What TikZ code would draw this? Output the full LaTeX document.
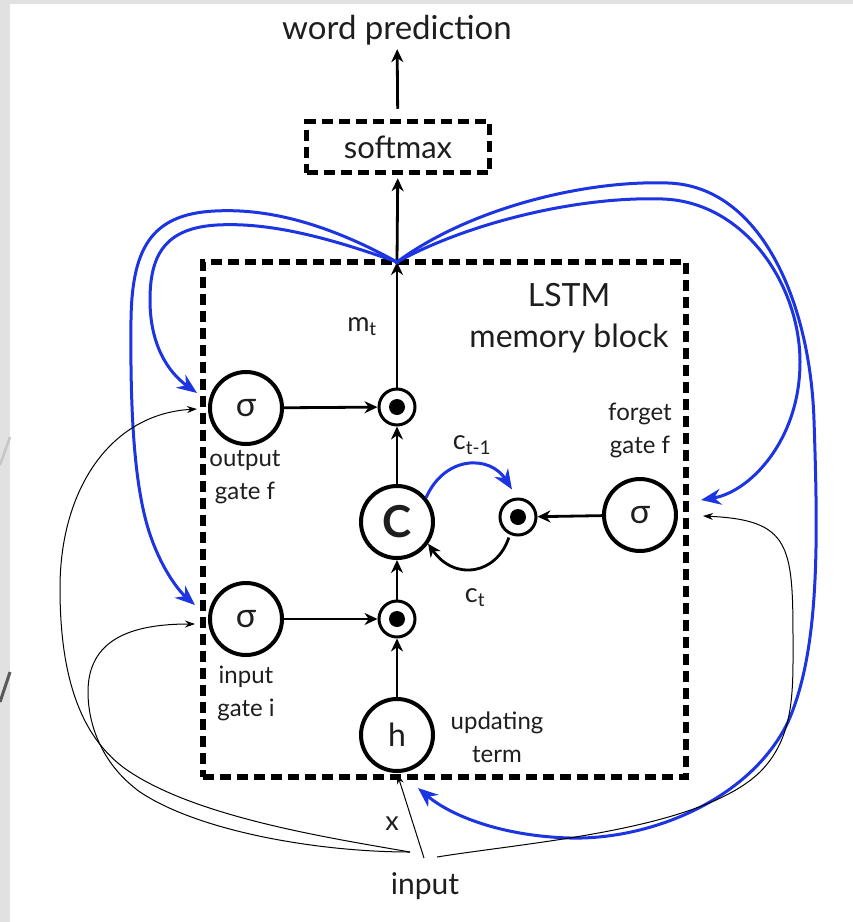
\documentclass[tikz,border=0pt]{standalone}
\usepackage{fontspec}
\setmainfont{Lato}
\usetikzlibrary{arrows.meta,calc}
\definecolor{fbblue}{RGB}{28,52,226}
\definecolor{ink}{RGB}{30,30,30}
\definecolor{bandgrey}{RGB}{225,225,225}
\tikzset{
  dbox/.style={draw=black, line width=5.5pt, dash pattern=on 11pt off 6pt, inner sep=0pt},
  gatenode/.style={circle, draw=black, line width=4pt, minimum size=72pt, inner sep=0pt, text=ink, font=\fontsize{34}{34}\selectfont},
  multnode/.style={circle, draw=black, line width=3pt, minimum size=36pt, inner sep=0pt,
    path picture={\fill[black] (path picture bounding box.center) circle (8pt);}},
  lbl/.style={align=center, text=ink, inner sep=0pt, font=\fontsize{24}{33}\selectfont},
  biglbl/.style={align=center, text=ink, inner sep=0pt, font=\fontsize{32}{41}\selectfont},
  flow/.style={draw=black, line width=2.8pt, -{Stealth[length=13pt,width=12pt]}},
  fb/.style={draw=fbblue, line width=3pt, -{Stealth[length=20pt,width=16pt]}},
  thinarr/.style={draw=black, line width=1pt, -{Stealth[length=10pt,width=7pt]}},
}
\begin{document}
\begin{tikzpicture}[x=1pt,y=-1pt]
\useasboundingbox (0,0) rectangle (853,922);
\fill[bandgrey] (0,0) rectangle (853,922);
\fill[white] (10,4) rectangle (853,922);
\draw[gray!45, line width=2.5pt] (10,437) -- (0,465);
\draw[gray!70!black, line width=3pt] (10,672) -- (0,702);

% boxes and texts
\node[text=ink, inner sep=2pt, font=\fontsize{33}{33}\selectfont] (wp) at (397,30) {word prediction};
\node[dbox, minimum width=183pt, minimum height=51pt, text=ink, font=\fontsize{31}{31}\selectfont] (sm) at (398,147) {softmax};
\node[dbox, minimum width=483pt, minimum height=515pt] (blk) at (444.5,519.5) {};
\node[biglbl] (lstm) at (569,318) {LSTM\\memory block};

% gates
\node[gatenode] (os) at (246,408) {σ};
\node[multnode] (om) at (397,407) {};
\node[gatenode, font=\fontsize{44}{44}\selectfont\bfseries] (C) at (397,522) {C};
\node[multnode] (fm) at (518,517) {};
\node[gatenode] (fs) at (640,515) {σ};
\node[gatenode] (is) at (246,619) {σ};
\node[multnode] (im) at (397,619) {};
\node[gatenode, font=\fontsize{32}{32}\selectfont] (h) at (397,735) {h};

% labels
\node[lbl] (ol) at (245,477) {output\\gate f};
\node[lbl] (fl) at (640,430) {forget\\gate f};
\node[lbl] (il) at (246,693) {input\\gate i};
\node[lbl] (ul) at (497,737) {updating\\term};
\node[text=ink, inner sep=0pt, font=\fontsize{27}{27}\selectfont] (mt) at (362,327) {m\textsubscript{t}};
\node[text=ink, inner sep=0pt, font=\fontsize{27}{27}\selectfont] (ct1) at (472,445) {c\textsubscript{t-1}};
\node[text=ink, inner sep=0pt, font=\fontsize{27}{27}\selectfont] (ct) at (475,598) {c\textsubscript{t}};
\node[text=ink, inner sep=0pt, font=\fontsize{27}{27}\selectfont] (xl) at (392,824) {x};
\node[text=ink, inner sep=0pt, font=\fontsize{30}{30}\selectfont] (inp) at (425,886) {input};

% coordinates
\coordinate (j) at (397,262);
\coordinate (sL) at (410,852);
\coordinate (sX) at (424,858);
\coordinate (sR) at (437,857);

% main flow
\draw[flow] (om) -- (j);
\draw[flow, shorten >=3pt] (j) -- (sm);
\draw[flow, shorten <=10pt, shorten >=2pt] (sm) -- (wp);
\draw[flow] (os) -- (om);
\draw[flow] (C) -- (om);
\draw[flow] (is) -- (im);
\draw[flow] (h) -- (im);
\draw[flow] (im) -- (C);
\draw[flow] (fs) -- (fm);
\draw[flow, shorten <=3pt] (fm.-115) .. controls (497,574) and (455,582) .. (C.-35);
\draw[fb] (C.40) .. controls (445,455) and (490,455) .. ($(fm.north)+(-6,-8)$);

% blue feedback
\fill[fbblue] (j) circle (2.5pt);
\draw[fb] (j) .. controls (330,238) and (270,222) .. (217,225) .. controls (165,228) and (150,255) .. (150,300) .. controls (150,345) and (168,372) .. ($(os.west)+(-11,-15)$);
\draw[fb] (j) .. controls (330,225) and (270,208) .. (215,211) .. controls (150,214) and (132,250) .. (131,320) .. controls (130,420) and (135,495) .. (152,540) .. controls (163,570) and (178,590) .. ($(is.west)+(-13,-14)$);
\draw[fb] (j) .. controls (470,222) and (580,196) .. (663,199) .. controls (745,202) and (800,285) .. (800,362) .. controls (800,440) and (750,492) .. ($(fs.east)+(23,-15)$);
\draw[fb] (j) .. controls (470,208) and (585,180) .. (668,183) .. controls (760,186) and (810,300) .. (814,420) .. controls (818,540) and (820,650) .. (788,722) .. controls (750,800) and (650,840) .. (570,838) .. controls (500,836) and (450,815) .. ($(h.south)+(21,15)$);

% thin input arrows
\draw[thinarr] (sL) .. controls (330,838) and (200,818) .. (130,772) .. controls (75,736) and (60,665) .. (60,588) .. controls (60,490) and (110,414) .. ($(os.west)+(-11,1)$);
\draw[thinarr] (sL) .. controls (320,852) and (200,832) .. (140,792) .. controls (100,763) and (88,722) .. (88,692) .. controls (88,640) and (130,624) .. ($(is.west)+(-13,5)$);
\draw[thinarr, shorten >=1pt] (sX) -- (h.south);
\draw[thinarr] (sR) .. controls (530,842) and (700,830) .. (760,772) .. controls (795,737) and (793,690) .. (793,640) .. controls (793,545) and (790,520) .. ($(fs.east)+(25,1)$);
\end{tikzpicture}
\end{document}
